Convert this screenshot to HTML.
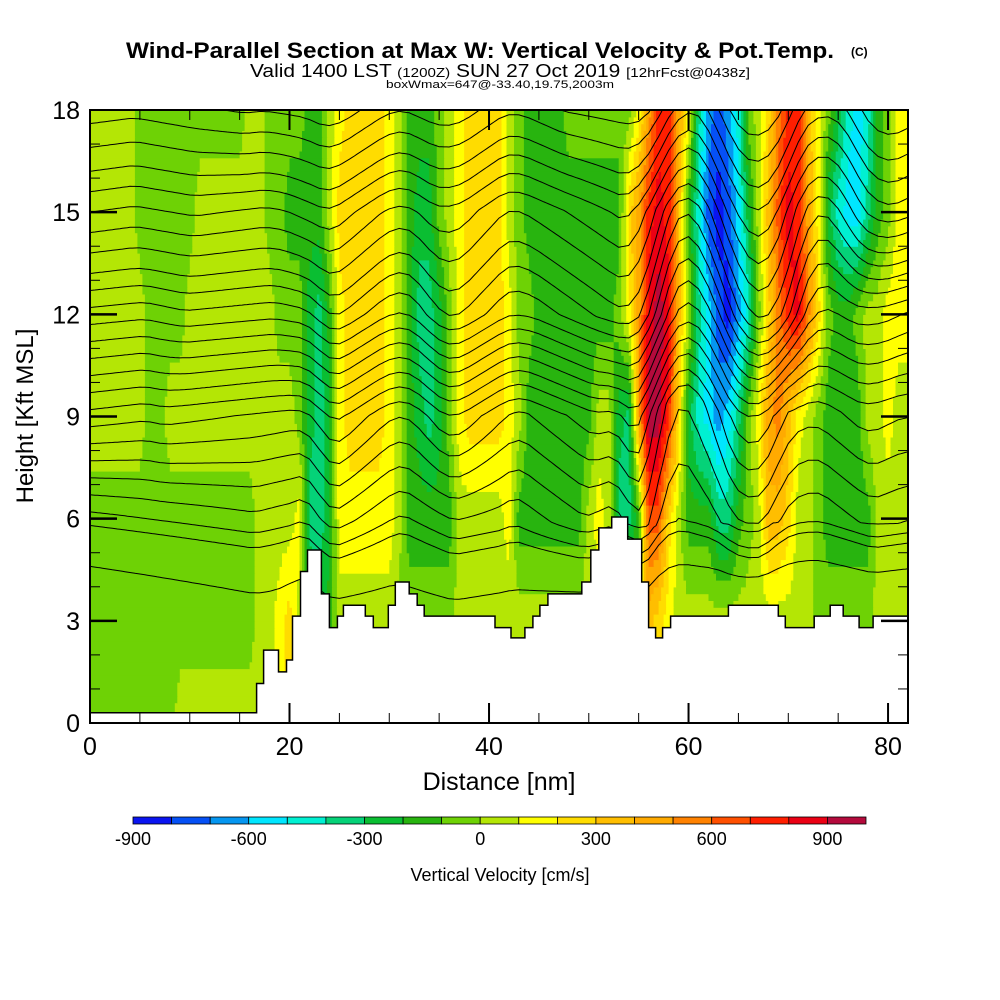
<!DOCTYPE html>
<html><head><meta charset="utf-8"><style>
html,body{margin:0;padding:0;background:#fff;}
svg{display:block;font-family:"Liberation Sans",sans-serif;}
</style></head><body>
<svg id="chart" width="1000" height="1000" viewBox="0 0 1000 1000">
<text x="126" y="58" font-size="22" font-weight="bold" textLength="708" lengthAdjust="spacingAndGlyphs">Wind-Parallel Section at Max W: Vertical Velocity &amp; Pot.Temp.</text>
<text x="851" y="56" font-size="12" font-weight="bold">(C)</text>
<text x="250" y="77" font-size="18" textLength="500" lengthAdjust="spacingAndGlyphs">Valid 1400 LST <tspan font-size="13">(1200Z)</tspan> SUN 27 Oct 2019 <tspan font-size="13">[12hrFcst@0438z]</tspan></text>
<text x="386" y="88" font-size="11" textLength="228" lengthAdjust="spacingAndGlyphs">boxWmax=647@-33.40,19.75,2003m</text>
<defs><clipPath id="plotclip"><rect x="90" y="110" width="818" height="613"/></clipPath></defs>
<g id="field" clip-path="url(#plotclip)"></g>
<g id="contours" clip-path="url(#plotclip)"></g>
<g id="terrain" clip-path="url(#plotclip)"></g>
<g id="axes"></g>
<text x="0" y="0" font-size="24" text-anchor="middle" transform="translate(33,416) rotate(-90)">Height [Kft MSL]</text>
<text x="499" y="790" font-size="25" text-anchor="middle">Distance [nm]</text>
<g id="colorbar"></g>
<text x="500" y="881" font-size="18" text-anchor="middle">Vertical Velocity [cm/s]</text>
</svg>
<script>
// ---- data ----
const rowHeights = [0, 3, 6, 9, 12, 15, 18];
const w0  = [-50,-50,-50,-50,-50,-50,-50,-50,-50,50,50,50,50,50,50,50,50,50,50,150,250,50,-150,-250,-150,50,50,50,50,50,50,-50,-50,-50,-50,-50,-50,50,50,50,50,50,50,50,50,50,50,50,50,50,50,50,50,50,50,150,350,250,150,50,50,50,50,50,50,50,50,50,50,50,50,50,50,-50,-50,-50,-50,-50,-50,50,50,50,50];
const w3  = [-50,-50,-50,-50,-50,-50,-50,-50,-50,-50,-50,-50,-50,-50,-50,-50,-50,50,50,150,250,50,-150,-250,-150,50,50,50,50,50,50,-50,-50,-50,-50,-50,-50,50,50,50,50,50,50,50,50,50,50,50,50,50,50,50,50,50,50,150,350,250,150,50,50,50,50,50,50,50,50,50,50,50,50,50,50,-50,-50,-50,-50,-50,-50,50,50,50,50];
const w6  = [-50,-50,-50,-50,-50,-50,-50,-50,-50,-50,-50,-50,-50,-50,-50,-50,-50,50,50,50,50,150,-350,-350,-250,150,150,150,150,150,150,50,-150,-150,-150,-150,-150,50,50,50,50,50,150,-150,-150,-150,-150,-150,-150,-150,50,150,50,-350,-350,-150,650,650,250,50,-150,-150,-150,-350,-350,-150,-50,50,350,350,250,50,50,-50,-150,-150,-150,-150,-150,50,50,50,50];
const w9  = [50,50,50,50,50,50,-50,-50,50,50,50,50,50,50,50,50,50,50,50,50,50,-50,-250,-350,-250,150,250,250,250,250,150,50,-150,-250,-350,-250,-50,150,250,250,250,250,150,50,-150,-150,-150,-150,-150,-150,-150,50,50,-250,-350,450,950,950,750,250,-250,-450,-550,-650,-550,-350,-50,150,450,550,350,150,50,-50,-150,-150,-150,-150,50,50,150,50,50];
const w12 = [50,50,50,50,50,50,-50,-50,-50,-50,50,50,50,50,50,50,50,50,50,-50,-50,-50,-250,-350,-150,150,250,250,250,250,150,50,-150,-350,-350,-250,-50,150,250,250,250,250,150,-50,-50,-150,-150,-150,-150,-150,-150,-150,-150,-50,150,450,850,950,850,350,50,-350,-550,-750,-850,-650,-450,-50,250,550,750,850,550,250,-50,-150,-150,-50,50,50,150,150,150];
const w15 = [50,50,50,50,50,-50,-50,-50,-50,-50,-50,50,50,50,50,50,50,50,-50,-50,-150,-150,-150,-150,50,250,250,250,250,250,150,50,-150,-250,-250,-50,50,150,250,250,250,250,50,-50,-150,-150,-150,-150,-150,-150,-150,-150,-150,-150,250,450,750,850,750,350,-150,-450,-750,-850,-750,-550,-250,50,350,650,850,750,450,150,-250,-450,-550,-550,-350,-150,-50,150,150];
const w18 = [50,50,50,50,50,-50,-50,-50,-50,-50,-50,-50,-50,-50,-50,-50,50,50,-50,-50,-50,-50,-150,-150,50,150,250,250,250,250,150,50,-150,-150,-150,-50,50,150,250,250,250,250,50,-50,-150,-150,-150,-150,-50,-50,-50,-50,-50,-50,-50,150,450,750,750,450,150,-350,-650,-750,-650,-450,-50,50,250,550,750,750,350,150,-50,-250,-450,-550,-450,-150,-50,150,150];
const wRows = [w0, w3, w6, w9, w12, w15, w18];
const terrainX = [0,16.7,17.4,18.9,19.7,20.3,21.1,21.8,23.2,24.0,24.8,25.4,27.6,28.4,29.9,30.6,32.0,32.8,33.5,40.6,42.2,43.6,44.4,45.1,45.9,49.3,50.2,51.0,52.3,53.9,55.3,56.0,56.7,57.4,58.2,64.0,69.0,69.7,72.6,74.2,75.5,77.1,78.5];
const terrainZ = [0.3,1.16,2.14,1.5,1.85,3.14,4.45,5.08,3.79,2.8,3.14,3.46,3.14,2.8,3.46,4.14,3.79,3.46,3.14,2.8,2.5,2.8,3.14,3.46,3.79,4.14,5.08,5.73,6.05,5.4,4.14,2.8,2.5,2.8,3.14,3.46,3.14,2.8,3.14,3.46,3.14,2.8,3.14];
const thetaLevels = [4.6,5.8,6.2,6.7,7.2,7.7,8.2,8.7,9.2,9.7,10.2,10.7,11.2,11.7,12.2,12.7,13.2,13.8,14.4,15.0,15.6,16.2,16.9,17.6,18.3,19.0,19.7,20.5];
const xTicks = [0,20,40,60,80];
const yTicks = [0,3,6,9,12,15,18];
const cbColors = ['#0a14f0','#0550f5','#0596f0','#00e6ff','#00f0d2','#05d278','#0abe32','#28b40f','#6ed205','#b4e605','#ffff00','#ffdc00','#ffbe00','#ffaa00','#ff8200','#ff5000','#ff1e00','#eb0014','#b40a3c'];
const cbTicks = [-900,-600,-300,0,300,600,900];

// ---- scales ----
const X0=90, X1=908, Y0=723, Y1=110, XMAX=82, ZMAX=18;
const sx = v => X0 + v*(X1-X0)/XMAX;
const sy = v => Y0 - v*(Y0-Y1)/ZMAX;
const NS='http://www.w3.org/2000/svg';
function mk(tag, parent){const e=document.createElementNS(NS,tag);parent.appendChild(e);return e;}
function colIdx(w){let i=Math.floor((w+900)/100);return Math.max(0,Math.min(18,i));}
function wAt(x,z){
  let r=0; while(r<rowHeights.length-2 && z>rowHeights[r+1]) r++;
  const tz=Math.max(0,Math.min(1,(z-rowHeights[r])/(rowHeights[r+1]-rowHeights[r])));
  const xi=Math.max(0,Math.min(81.999,x)); const c=Math.floor(xi); const tx=xi-c;
  const a=wRows[r], b=wRows[r+1];
  const va=a[c]*(1-tx)+a[c+1]*tx, vb=b[c]*(1-tx)+b[c+1]*tx;
  return va*(1-tz)+vb*tz;
}

// ---- field ----
const field=document.getElementById('field');
const dx=0.25, dz=0.2;
for(let z=0; z<ZMAX; z+=dz){
  let runStart=0, runCol=colIdx(wAt(dx/2,z+dz/2));
  for(let x=dx; x<=XMAX+dx; x+=dx){
    const c = x<XMAX ? colIdx(wAt(x+dx/2,z+dz/2)) : -1;
    if(c!==runCol){
      const r=mk('rect',field);
      
      
      r.setAttribute('x',sx(runStart).toFixed(1));
      r.setAttribute('y',sy(z+dz).toFixed(1));
      r.setAttribute('width',(sx(x)-sx(runStart)+0.6).toFixed(1));
      r.setAttribute('height',(sy(z)-sy(z+dz)+0.6).toFixed(1));
      r.setAttribute('fill',cbColors[runCol]);
      runStart=x; runCol=c;
    }
  }
}

// ---- theta contours (displacement from integrated w) ----
const K=0.0009;
const eta = wRows.map(row=>{
  const e=[0]; for(let i=1;i<row.length;i++) e.push(e[i-1]+K*(row[i-1]+row[i])/2);
  const n=e.length-1, end=e[n];
  return e.map((v,i)=>v-0.5*end*i/n);
});
function etaAt(x,z){
  let r=0; while(r<rowHeights.length-2 && z>rowHeights[r+1]) r++;
  const tz=Math.max(0,Math.min(1,(z-rowHeights[r])/(rowHeights[r+1]-rowHeights[r])));
  const xi=Math.max(0,Math.min(81.999,x)); const c=Math.floor(xi); const tx=xi-c;
  const a=eta[r], b=eta[r+1];
  return (a[c]*(1-tx)+a[c+1]*tx)*(1-tz)+(b[c]*(1-tx)+b[c+1]*tx)*tz;
}
const cg=document.getElementById('contours');
thetaLevels.forEach(z0=>{
  let pts=[];
  for(let x=0;x<=XMAX;x+=0.25){
    let z=z0; for(let k=0;k<3;k++) z=z0+etaAt(x,Math.min(18,Math.max(0,z)));
    pts.push(sx(x).toFixed(1)+','+sy(z).toFixed(1));
  }
  const p=mk('polyline',cg);
  
  
  p.setAttribute('points',pts.join(' '));
  p.setAttribute('fill','none');p.setAttribute('stroke','#000');p.setAttribute('stroke-width','1');
});

// ---- terrain ----
const tg=document.getElementById('terrain');
let tp=[sx(0)+','+sy(0)];
terrainX.forEach((x,i)=>{
  const xe = i<terrainX.length-1 ? terrainX[i+1] : XMAX;
  tp.push(sx(x).toFixed(1)+','+sy(terrainZ[i]).toFixed(1));
  tp.push(sx(xe).toFixed(1)+','+sy(terrainZ[i]).toFixed(1));
});
tp.push(sx(XMAX)+','+sy(0));
const tpoly=mk('polygon',tg);


tpoly.setAttribute('points',tp.join(' '));
tpoly.setAttribute('fill','#fff');tpoly.setAttribute('stroke','#000');tpoly.setAttribute('stroke-width','1.5');

// ---- axes ----
const ax=document.getElementById('axes');
const frame=mk('rect',ax);


frame.setAttribute('x',X0);frame.setAttribute('y',Y1);frame.setAttribute('width',X1-X0);frame.setAttribute('height',Y0-Y1);
frame.setAttribute('fill','none');frame.setAttribute('stroke','#000');frame.setAttribute('stroke-width','2');
function line(x1,y1,x2,y2,w){const l=mk('line',ax);
  
  
  l.setAttribute('x1',x1);l.setAttribute('y1',y1);l.setAttribute('x2',x2);l.setAttribute('y2',y2);l.setAttribute('stroke','#000');l.setAttribute('stroke-width',w);}
for(let v=5;v<XMAX;v+=5){const major=v%20===0;const L=major?20:10;
  line(sx(v),Y0,sx(v),Y0-L,major?2:1); line(sx(v),Y1,sx(v),Y1+L,major?2:1);}
for(let v=1;v<ZMAX;v++){const major=v%3===0;const L=major?27:10;
  line(X0,sy(v),X0+L,sy(v),major?2.5:1); line(X1,sy(v),X1-L,sy(v),major?2.5:1);}
xTicks.forEach(v=>{const t=mk('text',ax);
  
  
  t.setAttribute('x',sx(v));t.setAttribute('y',755);t.setAttribute('font-size','25');t.setAttribute('text-anchor','middle');t.textContent=v;});
yTicks.forEach(v=>{const t=mk('text',ax);
  
  
  t.setAttribute('x',80);t.setAttribute('y',sy(v)+9);t.setAttribute('font-size','25');t.setAttribute('text-anchor','end');t.textContent=v;});

// ---- colorbar ----
const cb=document.getElementById('colorbar');
const CB0=133, CB1=866, cw=(CB1-CB0)/cbColors.length;
const cbx = v => CB0 + (v+900)/100*cw;
cbColors.forEach((c,i)=>{const r=mk('rect',cb);
  
  
  r.setAttribute('x',(CB0+i*cw).toFixed(1));r.setAttribute('y',817);r.setAttribute('width',cw.toFixed(1));r.setAttribute('height',7);
  r.setAttribute('fill',c);r.setAttribute('stroke','#000');r.setAttribute('stroke-width','0.8');});
cbTicks.forEach(v=>{const t=mk('text',cb);
  
  
  t.setAttribute('x',cbx(v).toFixed(1));t.setAttribute('y',845);t.setAttribute('font-size','18');t.setAttribute('text-anchor','middle');t.textContent=v;});
</script>
</body></html>
